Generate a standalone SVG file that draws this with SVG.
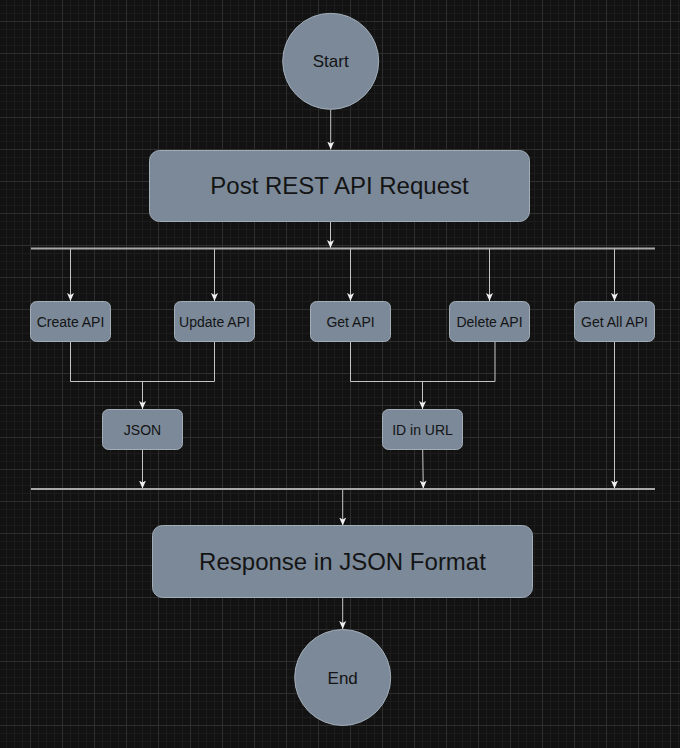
<svg xmlns="http://www.w3.org/2000/svg" width="680" height="748" viewBox="0 0 680 748">
<style>
.node{fill:#7b8999;stroke:#a3adb8;stroke-width:1}
.t{font-family:"Liberation Sans",Arial,sans-serif;fill:#141414;text-anchor:middle}
.s{font-size:14px}
.m{font-size:17px}
.l{font-size:24px}
.c{fill:none;stroke:#c4c4c4;stroke-width:1}
.bar{fill:none;stroke:#a8a8a8;stroke-width:2}
</style>
<defs>
<pattern id="grid" patternUnits="userSpaceOnUse" x="30" y="21" width="32" height="32">
<path d="M8.5 0V32M16.5 0V32M24.5 0V32M0 8.5H32M0 16.5H32M0 24.5H32" stroke="#1c1c1c" stroke-width="1" fill="none"/>
<path d="M0.5 0V32M0 0.5H32" stroke="#2e2e2e" stroke-width="1" fill="none"/>
</pattern>
<marker id="arr" markerUnits="userSpaceOnUse" viewBox="0 0 8 8" refX="8" refY="4" markerWidth="8" markerHeight="8" orient="auto">
<path d="M0,0.5 L8,4 L0,7.5 L2,4 Z" fill="#f0f0f0"/>
</marker>
</defs>
<rect width="680" height="748" fill="#121212"/>
<rect width="680" height="748" fill="url(#grid)"/>

<g id="connectors">
<path class="c" d="M330.7 109.5V149.5" marker-end="url(#arr)"/>
<path class="c" d="M330.5 221.5V248" marker-end="url(#arr)"/>
<path class="bar" d="M31 248.5H655"/>
<path class="c" d="M70.5 249V301" marker-end="url(#arr)"/>
<path class="c" d="M214.5 249V301" marker-end="url(#arr)"/>
<path class="c" d="M350.5 249V301" marker-end="url(#arr)"/>
<path class="c" d="M489.5 249V301" marker-end="url(#arr)"/>
<path class="c" d="M614.5 249V301" marker-end="url(#arr)"/>
<path class="c" d="M70.5 342V381.5H214.5V342"/>
<path class="c" d="M142.5 381.5V409" marker-end="url(#arr)"/>
<path class="c" d="M350.5 342V381.5H495V342"/>
<path class="c" d="M422.5 381.5V409" marker-end="url(#arr)"/>
<path class="c" d="M142.5 450V488.5" marker-end="url(#arr)"/>
<path class="c" d="M422.7 450L423.3 488.5" marker-end="url(#arr)"/>
<path class="c" d="M614.5 342V488.5" marker-end="url(#arr)"/>
<path class="bar" d="M31 489H655"/>
<path class="c" d="M342.7 490V525.5" marker-end="url(#arr)"/>
<path class="c" d="M342.7 598V629" marker-end="url(#arr)"/>
</g>

<g id="start">
<circle class="node" cx="330.7" cy="61.3" r="48"/>
<text class="t m" x="330.7" y="67">Start</text>
</g>
<g id="post">
<rect class="node" x="149.5" y="150.5" width="380" height="71" rx="10"/>
<text class="t l" x="339.5" y="193.5">Post REST API Request</text>
</g>
<g id="create">
<rect class="node" x="30.5" y="301.5" width="80" height="40" rx="6"/>
<text class="t s" x="70.5" y="326.5">Create API</text>
</g>
<g id="update">
<rect class="node" x="174.5" y="301.5" width="80" height="40" rx="6"/>
<text class="t s" x="214.5" y="326.5">Update API</text>
</g>
<g id="get">
<rect class="node" x="310.5" y="301.5" width="80" height="40" rx="6"/>
<text class="t s" x="350.5" y="326.5">Get API</text>
</g>
<g id="delete">
<rect class="node" x="449.5" y="301.5" width="80" height="40" rx="6"/>
<text class="t s" x="489.5" y="326.5">Delete API</text>
</g>
<g id="getall">
<rect class="node" x="574.5" y="301.5" width="80" height="40" rx="6"/>
<text class="t s" x="614.5" y="326.5">Get All API</text>
</g>
<g id="json">
<rect class="node" x="102.5" y="409.5" width="80" height="40" rx="6"/>
<text class="t s" x="142.5" y="434.5">JSON</text>
</g>
<g id="idurl">
<rect class="node" x="382.5" y="409.5" width="80" height="40" rx="6"/>
<text class="t s" x="422.5" y="434.5">ID in URL</text>
</g>
<g id="response">
<rect class="node" x="152.5" y="525.5" width="380" height="72" rx="10"/>
<text class="t l" x="342.5" y="569.5">Response in JSON Format</text>
</g>
<g id="end">
<circle class="node" cx="342.7" cy="677.5" r="48"/>
<text class="t m" x="342.7" y="683.5">End</text>
</g>
</svg>
